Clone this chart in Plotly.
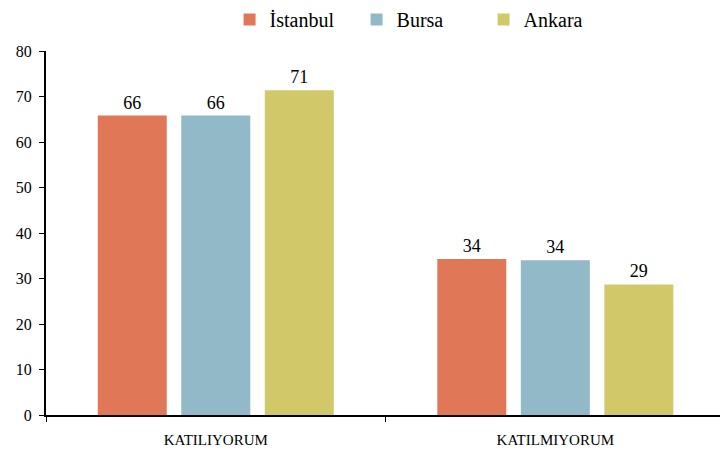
import plotly.graph_objects as go

categories = ["KATILIYORUM", "KATILMIYORUM"]
series_names = ["İstanbul", "Bursa", "Ankara"]
istanbul = [65.8, 34.3]
bursa = [65.8, 34.0]
ankara = [71.4, 28.7]
colors = ["#E07858", "#92B9C7", "#D1C86A"]
y_ticks = [0, 10, 20, 30, 40, 50, 60, 70, 80]

FONT = "Liberation Serif"

fig = go.Figure()
for name, vals, col in zip(series_names, [istanbul, bursa, ankara], colors):
    fig.add_trace(go.Bar(
        name=name, x=categories, y=vals, marker=dict(color=col, line=dict(width=0)),
        texttemplate="%{y:.0f}", textposition="outside",
        textfont=dict(family=FONT, size=18, color="#000"), cliponaxis=False,
    ))

fig.update_layout(
    width=720, height=458,
    margin=dict(l=46, r=0, t=51, b=43),
    paper_bgcolor="white", plot_bgcolor="white",
    barmode="group", bargap=0.262, bargroupgap=0.174,
    font=dict(family=FONT, size=15, color="#000"),
    legend=dict(orientation="h", x=0.555, xanchor="center", y=1.0, yanchor="top",
                yref="container", entrywidth=82, font=dict(family=FONT, size=20),
                itemwidth=30, tracegroupgap=0),
    xaxis=dict(range=[-0.5, 1.485], showline=True, linecolor="#000", linewidth=2,
               tickson="boundaries", ticks="outside", ticklen=5, tickcolor="#000",
               tickfont=dict(family=FONT, size=15), showgrid=False, automargin=False,
               ticklabelstandoff=10),
    yaxis=dict(range=[0, 80], tickvals=y_ticks, showline=True, linecolor="#000", linewidth=2,
               ticks="outside", ticklen=5, tickcolor="#000", showgrid=False, zeroline=False,
               tickfont=dict(family=FONT, size=16), automargin=False, ticklabelstandoff=4),
)
fig.write_html("out.html", post_script="document.body.style.margin='0px';",
               config={"displayModeBar": False})
